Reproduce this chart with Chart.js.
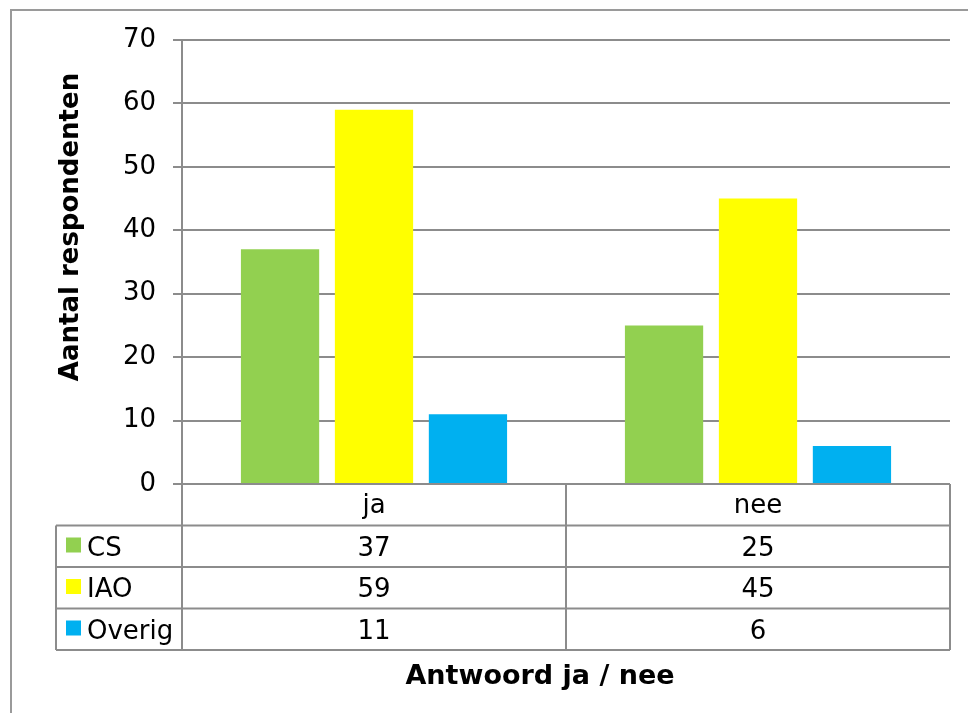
<!DOCTYPE html>
<html>
<head>
<meta charset="utf-8">
<script src="https://cdn.jsdelivr.net/npm/chart.js@4"></script>
<style>
  html, body { margin: 0; padding: 0; background: #fff; }
  canvas { display: block; }
</style>
</head>
<body>
<canvas id="chart" width="968" height="713"></canvas>
<script>
const categories = ['ja', 'nee'];
const seriesNames = ['CS', 'IAO', 'Overig'];
const csValues = [37, 25];
const iaoValues = [59, 45];
const overigValues = [11, 6];
const seriesColors = ['#92D050', '#FFFF00', '#00B0F0'];
const yMin = 0, yMax = 70, yStep = 10;
const yTitle = 'Aantal respondenten';
const xTitle = 'Antwoord ja / nee';

const lineGray = '#8c8c8c';
const fontName = '"DejaVu Sans", Verdana, sans-serif';

// data table under the plot, like the Excel one
const tablePlugin = {
  id: 'dataTable',
  beforeDraw(chart) {
    const ctx = chart.ctx;
    ctx.save();
    ctx.strokeStyle = '#9a9a9a';
    ctx.lineWidth = 2;
    ctx.strokeRect(11, 10, 990, 740);
    ctx.restore();
  },
  afterDraw(chart) {
    const ctx = chart.ctx;
    const xs = chart.scales.x;
    const area = chart.chartArea;
    const colW = xs.width / categories.length;
    const rowH = 41.5;
    const tableLeft = 56;
    const top = area.bottom;
    const bottom = top + rowH * (seriesNames.length + 1);

    ctx.save();
    ctx.strokeStyle = lineGray;
    ctx.lineWidth = 2;
    ctx.beginPath();
    // vertical lines
    for (let i = 0; i <= categories.length; i++) {
      const x = area.left + colW * i;
      ctx.moveTo(x, top);
      ctx.lineTo(x, bottom);
    }
    ctx.moveTo(tableLeft, top + rowH);
    ctx.lineTo(tableLeft, bottom);
    // horizontal lines
    for (let r = 1; r <= seriesNames.length + 1; r++) {
      const y = top + rowH * r;
      ctx.moveTo(tableLeft, y);
      ctx.lineTo(area.right, y);
    }
    ctx.stroke();

    ctx.fillStyle = '#000';
    ctx.font = '26px ' + fontName;
    ctx.textAlign = 'center';
    ctx.textBaseline = 'alphabetic';
    categories.forEach((c, i) => {
      ctx.fillText(c, xs.getPixelForValue(i), top + 29);
    });

    chart.data.datasets.forEach((ds, r) => {
      const rowTop = top + rowH * (r + 1);
      ctx.fillStyle = ds.backgroundColor;
      ctx.fillRect(66, rowTop + 12, 15, 15);
      ctx.fillStyle = '#000';
      ctx.textAlign = 'left';
      ctx.fillText(ds.label, 87, rowTop + 30);
      ctx.textAlign = 'center';
      ds.data.forEach((v, i) => {
        ctx.fillText(String(v), xs.getPixelForValue(i), rowTop + 30);
      });
    });

    // axis titles
    ctx.textAlign = 'center';
    ctx.font = 'bold 27px ' + fontName;
    ctx.fillText(xTitle, 540, 684);
    ctx.font = 'bold 26px ' + fontName;
    ctx.translate(78, 227);
    ctx.rotate(-Math.PI / 2);
    ctx.fillText(yTitle, 0, 0);
    ctx.restore();
  }
};

new Chart(document.getElementById('chart'), {
  type: 'bar',
  data: {
    labels: categories,
    datasets: [
      { label: seriesNames[0], data: csValues, backgroundColor: seriesColors[0] },
      { label: seriesNames[1], data: iaoValues, backgroundColor: seriesColors[1] },
      { label: seriesNames[2], data: overigValues, backgroundColor: seriesColors[2] }
    ]
  },
  options: {
    responsive: false,
    animation: false,
    layout: { padding: { top: 40, right: 18, bottom: 229, left: 0 } },
    datasets: { bar: { categoryPercentage: 0.734, barPercentage: 0.833 } },
    plugins: { legend: { display: false }, tooltip: { enabled: false } },
    scales: {
      x: {
        grid: { display: false },
        border: { display: false },
        ticks: { display: false },
        afterFit(scale) { scale.height = 0; }
      },
      y: {
        min: yMin,
        max: yMax,
        ticks: {
          stepSize: yStep,
          color: '#000',
          padding: 17,
          font: { family: fontName, size: 26 }
        },
        grid: { color: lineGray, lineWidth: 2, tickLength: 9 },
        border: { color: lineGray, width: 2 },
        afterFit(scale) { scale.width = 182; }
      }
    }
  },
  plugins: [tablePlugin]
});
</script>
</body>
</html>
